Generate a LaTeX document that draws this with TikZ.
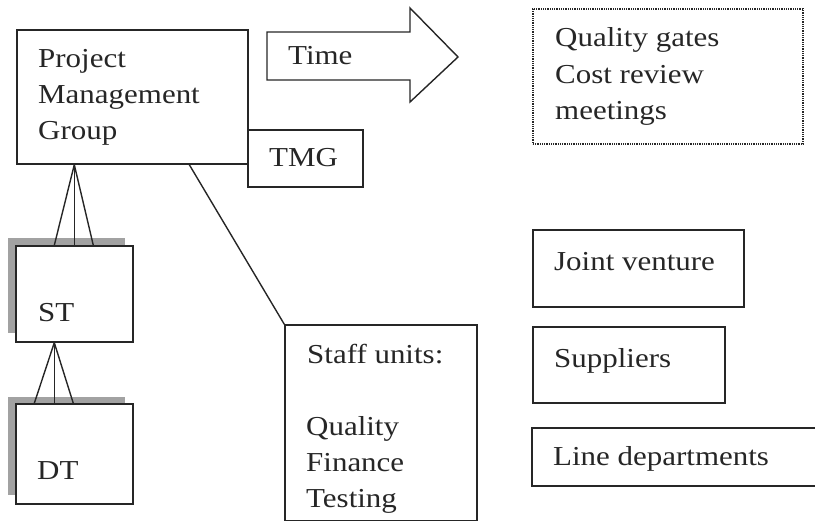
\documentclass[tikz,border=0pt]{standalone}
\usepackage{fontspec}
\setmainfont{Liberation Serif}[FakeStretch=1.13]
\usetikzlibrary{fit,calc}
\definecolor{ink}{HTML}{262626}
\definecolor{shade}{HTML}{A2A2A2}
\tikzset{
  box/.style={draw=ink, line width=1.4bp, inner sep=0pt, fill=white},
  dotbox/.style={draw=ink, line width=1.2bp, dash pattern=on 0.9bp off 0.9bp, inner sep=0pt},
  shadowbox/.style={fill=shade, draw=none, inner sep=0pt},
  lbl/.style={text=ink, inner sep=0pt, anchor=base west, font=\fontsize{27.5}{36}\selectfont},
  link/.style={draw=ink, line width=1.4bp},
}
% \mkbox[style]{name}{corner}{opposite corner}
\newcommand\mkbox[4][box]{%
  \path #3 coordinate (#2-a) #4 coordinate (#2-b);
  \node[#1, fit=(#2-a)(#2-b)] (#2) {};}
\begin{document}
\begin{tikzpicture}[x=1bp,y=-1bp]
\useasboundingbox (0,0) rectangle (815,522);
\clip (0,0) rectangle (815,522);

% Project management group and its task group
\mkbox{pmg}{(17,30)}{(248,164)}
\node[lbl] (pmg1) at (38,68) {Project};
\node[lbl] (pmg2) at (38,104) {Management};
\node[lbl] (pmg3) at (38,140) {Group};
\mkbox{tmg}{(248,130)}{(363,187)}
\node[lbl] (tmgt) at (269,167) {TMG};

% Time arrow
\draw[link] (267,32) coordinate (timeA) -- (410,32) -- (410,8) -- (458,57) coordinate (timeTip)
  -- (410,102) -- (410,80) -- (267,80) -- cycle;
\node[lbl] (timet) at (288,65) {Time};

% Review events
\mkbox[dotbox]{gates}{(533,9)}{(803,144)}
\node[lbl] (gates1) at (555,47) {Quality gates};
\node[lbl] (gates2) at (555,84) {Cost review};
\node[lbl] (gates3) at (555,120) {meetings};

% Sub-teams with drop shadows
\mkbox[shadowbox]{stsh}{(8,238)}{(125,333)}
\mkbox{st}{(16,246)}{(133,342)}
\node[lbl] (stt) at (38,322) {ST};
\mkbox[shadowbox]{dtsh}{(8,397)}{(125,495)}
\mkbox{dt}{(16,404)}{(133,504)}
\node[lbl] (dtt) at (37,479) {DT};

% Hierarchy links
\coordinate (pmgfoot) at ($(pmg.south west)+(58,0)$);
\foreach \dx in {39,59,78}
  \draw[link] (pmgfoot) -- ($(st.north west)+(\dx,0)$);
\coordinate (stfoot) at ($(st.south west)+(39,0)$);
\foreach \dx in {19,39,58}
  \draw[link] (stfoot) -- ($(dt.north west)+(\dx,0)$);

% Staff units
\mkbox{staff}{(285,325)}{(477,520.5)}
\node[lbl] (staff1) at (307,363) {Staff units:};
\node[lbl] (staff2) at (306,435) {Quality};
\node[lbl] (staff3) at (306,471) {Finance};
\node[lbl] (staff4) at (306,507) {Testing};
\draw[link] ($(pmg.south west)+(173,0)$) -- (staff.north west);

% External partners
\mkbox{jv}{(533,230)}{(744,307)}
\node[lbl] (jvt) at (554,271) {Joint venture};
\mkbox{sup}{(533,327)}{(725,403)}
\node[lbl] (supt) at (554,367) {Suppliers};
\mkbox{line}{(532,428)}{(830,486)}
\node[lbl] (linet) at (553,465) {Line departments};
\end{tikzpicture}
\end{document}
